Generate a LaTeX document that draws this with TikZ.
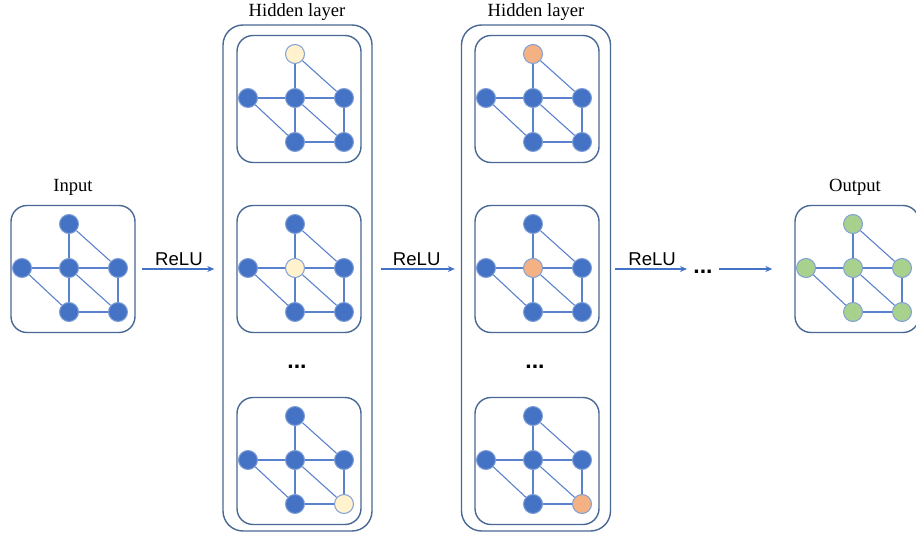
\documentclass[tikz,border=0pt]{standalone}
\usepackage{fontspec}
\setmainfont{Liberation Serif}
\setsansfont{Liberation Sans}
\usetikzlibrary{positioning, arrows.meta}

\definecolor{nodeblue}{HTML}{4472C4}
\definecolor{nodeline}{HTML}{7F9FD6}
\definecolor{edgeblue}{HTML}{5A82CC}
\definecolor{boxline}{HTML}{4A6894}
\definecolor{paleyellow}{HTML}{FFF2CC}
\definecolor{paleorange}{HTML}{F4B183}
\definecolor{palegreen}{HTML}{A9D18E}

\begin{document}
\begin{tikzpicture}[x=0.5pt, y=-0.5pt, font=\fontsize{9.3}{11}\selectfont,
    vtx/.style={circle, minimum size=9.5pt, inner sep=0pt, draw=nodeline, line width=0.5pt},
    edge/.style={draw=edgeblue, line width=0.55pt},
    gbox/.style={draw=boxline, line width=0.7pt, rounded corners=8pt, minimum width=62pt, minimum height=63.5pt},
    layerbox/.style={draw=boxline, line width=0.7pt, rounded corners=10pt, minimum width=74.5pt, minimum height=253pt},
    relu/.style={draw=nodeblue, line width=0.9pt, -{Stealth[length=3.5pt, width=3pt]}},
    reluname/.style={font=\sffamily\fontsize{9.3}{11}\selectfont, inner sep=1pt},
    dots/.style={font=\sffamily\bfseries\fontsize{11.5}{12}\selectfont, inner sep=0pt}]
      \useasboundingbox (0,0) rectangle (916,540);

      % hidden layers
      \node[layerbox] (h1) at (297.5, 278) {};
      \node[layerbox] (h2) at (536,   278) {};
      \node (h1-name) at (297, 12) {Hidden layer};
      \node (h2-name) at (536, 12) {Hidden layer};

      % small graphs: name / centre x / centre y / colour / marked node / mark colour
      \foreach \g/\cx/\cy/\base/\hl/\hc in {in/69/268/nodeblue/none/nodeblue,
                                           a1/295/98/nodeblue/t/paleyellow,
                                           a2/295/268/nodeblue/c/paleyellow,
                                           a3/295/460/nodeblue/br/paleyellow,
                                           b1/533/98/nodeblue/t/paleorange,
                                           b2/533/268/nodeblue/c/paleorange,
                                           b3/533/460/nodeblue/br/paleorange,
                                           out/853/268/palegreen/none/palegreen} {
        \node[gbox] (\g-box) at (\cx+4, \cy+1) {};
        \foreach \n/\dx/\dy in {t/0/-44, l/-47/0, c/0/0, r/49/0, bc/0/44, br/49/44} {
          \ifx\n\hl \def\vc{\hc}\else \def\vc{\base}\fi
          \node[vtx, fill=\vc] (\g-\n) at (\cx+\dx, \cy+\dy) {};
        }
        \foreach \a/\b in {t/c, t/r, l/c, c/r, l/bc, c/bc, c/br, r/br, bc/br}
          \draw[edge] (\g-\a) -- (\g-\b);
      }

      \node (in-name)  at (73, 187)  {Input};
      \node (out-name) at (855, 187) {Output};

      % dots
      \node[dots] (d1) at (297, 367) {...};
      \node[dots] (d2) at (535, 367) {...};
      \node[dots] (d3) at (703, 272) {...};

      % arrows
      \draw[relu, shorten <=3pt, shorten >=4pt] (in-box.east) -- (in-box.east -| h1.west)
          node[midway, above, reluname] {ReLU};
      \draw[relu, shorten <=4pt, shorten >=3pt] (in-box.east -| h1.east) -- (in-box.east -| h2.west)
          node[midway, above, reluname] {ReLU};
      \draw[relu, shorten <=2pt, shorten >=3pt] (in-box.east -| h2.east) -- (in-box.east -| d3.west)
          node[midway, above, reluname] {ReLU};
      \draw[relu, shorten <=3pt, shorten >=11pt] (in-box.east -| d3.east) -- (in-box.east -| out-box.west);
    \end{tikzpicture}
\end{document}
